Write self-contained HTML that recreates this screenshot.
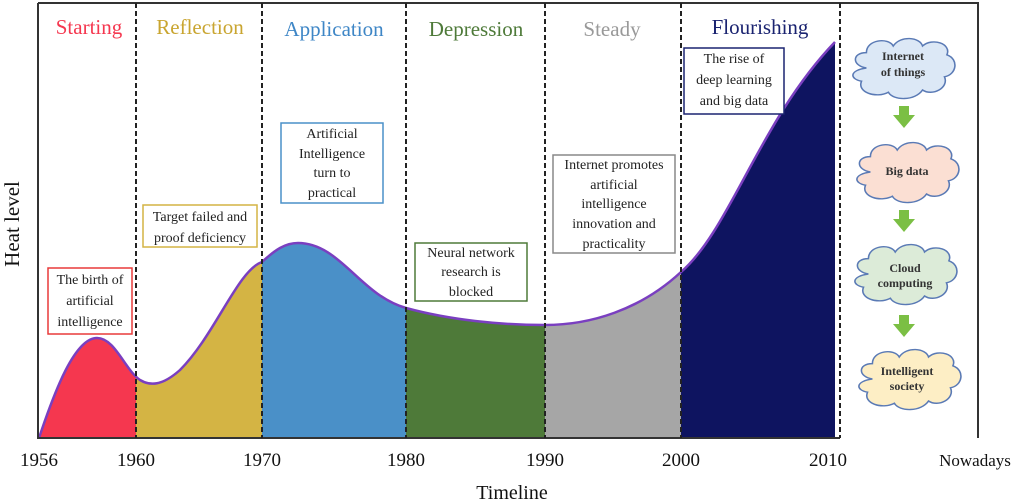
<!DOCTYPE html><html><head><style>body{margin:0;background:#fff}svg{display:block}text{font-family:"Liberation Serif",serif}</style></head><body>
<svg width="1024" height="502" viewBox="0 0 1024 502">
<defs>
<path id="a" d="M39,438 C55,390 75,338 97,338 C115,338 125,370 140,380 C150,386 162,386 180,370 C215,335 238,270 262,262 C275,250 285,243 298,243 C340,243 360,295 406,308 C450,320 500,325 545,325 C590,325 640,310 681,272 C730,230 760,120 835,42 L835,438 Z"/>
<clipPath id="c1"><rect x="0" y="0" width="136" height="440"/></clipPath>
<clipPath id="c2"><rect x="136" y="0" width="126" height="440"/></clipPath>
<clipPath id="c3"><rect x="262" y="0" width="144" height="440"/></clipPath>
<clipPath id="c4"><rect x="406" y="0" width="139" height="440"/></clipPath>
<clipPath id="c5"><rect x="545" y="0" width="136" height="440"/></clipPath>
<clipPath id="c6"><rect x="681" y="0" width="159" height="440"/></clipPath>
<g id="cl"><path transform="scale(1.22,1.1)" d="M-30,0 C-42,-2 -42,-14 -30,-14 C-30,-26 -12,-28 -8,-20 C-2,-30 14,-28 16,-20 C24,-28 40,-22 36,-12 C46,-8 44,6 34,8 C38,18 24,26 16,20 C10,30 -8,30 -12,22 C-22,28 -38,22 -34,12 C-44,10 -44,2 -30,0 Z" stroke="#5a7ab5" stroke-width="1.3"/></g>
</defs>
<g fill="#f5374f" clip-path="url(#c1)"><use href="#a"/></g>
<g fill="#d4b444" clip-path="url(#c2)"><use href="#a"/></g>
<g fill="#4a90c8" clip-path="url(#c3)"><use href="#a"/></g>
<g fill="#4e7a39" clip-path="url(#c4)"><use href="#a"/></g>
<g fill="#a6a6a6" clip-path="url(#c5)"><use href="#a"/></g>
<g fill="#0e1460" clip-path="url(#c6)"><use href="#a"/></g>
<path d="M39,438 C55,390 75,338 97,338 C115,338 125,370 140,380 C150,386 162,386 180,370 C215,335 238,270 262,262 C275,250 285,243 298,243 C340,243 360,295 406,308 C450,320 500,325 545,325 C590,325 640,310 681,272 C730,230 760,120 835,42" fill="none" stroke="#7a3fc0" stroke-width="2.5"/>
<path d="M38,3 H978 V438 M38,3 V438 H840" fill="none" stroke="#333" stroke-width="2"/>
<g stroke="#222" stroke-width="2" stroke-dasharray="5,3"><line x1="136" y1="3" x2="136" y2="438"/><line x1="262" y1="3" x2="262" y2="438"/><line x1="406" y1="3" x2="406" y2="438"/><line x1="545" y1="3" x2="545" y2="438"/><line x1="681" y1="3" x2="681" y2="438"/><line x1="840" y1="3" x2="840" y2="438"/></g>
<g font-size="21" text-anchor="middle"><text x="89" y="34" fill="#f5374f">Starting</text><text x="200" y="34" fill="#c9a530">Reflection</text><text x="334" y="36" fill="#3e86c6">Application</text><text x="476" y="36" fill="#4e7a39">Depression</text><text x="612" y="36" fill="#999">Steady</text><text x="760" y="34" fill="#1a2370">Flourishing</text></g>
<g fill="#fff" stroke-width="1.5"><rect x="48" y="268" width="84" height="66" stroke="#e83a3a"/><rect x="143" y="205" width="114" height="42" stroke="#d4b444"/><rect x="281" y="123" width="102" height="80" stroke="#4a90c8"/><rect x="415" y="243" width="112" height="58" stroke="#4e7a39"/><rect x="553" y="155" width="122" height="98" stroke="#888"/><rect x="684" y="48" width="100" height="66" stroke="#1a2370"/></g>
<g font-size="14" text-anchor="middle" fill="#222">
<text x="90" y="284">The birth of</text><text x="90" y="305">artificial</text><text x="90" y="326">intelligence</text>
<text x="200" y="221">Target failed and</text><text x="200" y="242">proof deficiency</text>
<text x="332" y="138">Artificial</text><text x="332" y="158">Intelligence</text><text x="332" y="177">turn to</text><text x="332" y="197">practical</text>
<text x="471" y="257">Neural network</text><text x="471" y="276">research is</text><text x="471" y="296">blocked</text>
<text x="614" y="169">Internet promotes</text><text x="614" y="189">artificial</text><text x="614" y="208">intelligence</text><text x="614" y="228">innovation and</text><text x="614" y="248">practicality</text>
<text x="734" y="63">The rise of</text><text x="734" y="84">deep learning</text><text x="734" y="105">and big data</text></g>
<g fill="#7bbf44"><path d="M899,106 h10 v9 h6 l-11,13 l-11,-13 h6z"/><path d="M899,210 h10 v9 h6 l-11,13 l-11,-13 h6z"/><path d="M899,315 h10 v9 h6 l-11,13 l-11,-13 h6z"/></g>
<use href="#cl" x="903" y="68" fill="#dce8f6"/><use href="#cl" x="907" y="172" fill="#fbdfd3"/><use href="#cl" x="905" y="274" fill="#dcebd8"/><use href="#cl" x="909" y="379" fill="#fdeec5"/>
<g font-size="12" font-weight="bold" text-anchor="middle" fill="#333"><text x="903" y="60">Internet</text><text x="903" y="76">of things</text><text x="907" y="175">Big data</text><text x="905" y="272">Cloud</text><text x="905" y="287">computing</text><text x="907" y="375">Intelligent</text><text x="907" y="390">society</text></g>
<g font-size="19" text-anchor="middle" fill="#111"><text x="39" y="466">1956</text><text x="136" y="466">1960</text><text x="262" y="466">1970</text><text x="406" y="466">1980</text><text x="545" y="466">1990</text><text x="681" y="466">2000</text><text x="828" y="466">2010</text><text x="975" y="466" font-size="17">Nowadays</text><text x="512" y="499" font-size="20">Timeline</text>
<text transform="translate(19,224) rotate(-90)" font-size="21">Heat level</text></g>
</svg></body></html>
